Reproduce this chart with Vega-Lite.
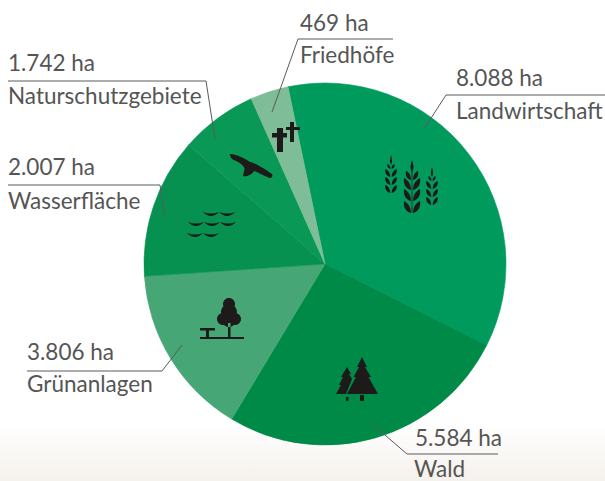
{
"$schema":"https://vega.github.io/schema/vega-lite/v6.json",
"width":605,"height":481,"padding":0,
"autosize":{"type":"none"},
"background":"#ffffff",
"config":{"view":{"stroke":null}},
"datasets":{
"areas":[
{"flaeche":"Landwirtschaft","ha":8088,"anteil":35.7,"rang":1},
{"flaeche":"Wald","ha":5584,"anteil":26.2,"rang":2},
{"flaeche":"Grünanlagen","ha":3806,"anteil":15.3,"rang":3},
{"flaeche":"Wasserfläche","ha":2007,"anteil":12.5,"rang":4},
{"flaeche":"Naturschutzgebiete","ha":1742,"anteil":6.9,"rang":5},
{"flaeche":"Friedhöfe","ha":469,"anteil":3.4,"rang":6}
],
"labels":[
{"t":"1.742 ha","x":8,"y":71},{"t":"Naturschutzgebiete","x":8,"y":104},
{"t":"2.007 ha","x":8,"y":175},{"t":"Wasserfläche","x":8,"y":209},
{"t":"469 ha","x":300,"y":31},{"t":"Friedhöfe","x":300,"y":63},
{"t":"8.088 ha","x":456,"y":86},{"t":"Landwirtschaft","x":456,"y":119},
{"t":"3.806 ha","x":27,"y":360},{"t":"Grünanlagen","x":27,"y":392},
{"t":"5.584 ha","x":415,"y":446},{"t":"Wald","x":414,"y":477}
],
"leaders":[
{"g":"n","o":1,"x":8,"y":81},{"g":"n","o":2,"x":206,"y":81},{"g":"n","o":3,"x":215,"y":139},
{"g":"w","o":1,"x":8,"y":185},{"g":"w","o":2,"x":160,"y":185},{"g":"w","o":3,"x":165,"y":217},
{"g":"f","o":1,"x":393,"y":39},{"g":"f","o":2,"x":298,"y":39},{"g":"f","o":3,"x":272,"y":112},
{"g":"l","o":1,"x":605,"y":95},{"g":"l","o":2,"x":446,"y":95},{"g":"l","o":3,"x":424,"y":129},
{"g":"g","o":1,"x":27,"y":371},{"g":"g","o":2,"x":162,"y":371},{"g":"g","o":3,"x":182,"y":345},
{"g":"d","o":1,"x":498,"y":454},{"g":"d","o":2,"x":407,"y":454},{"g":"d","o":3,"x":371,"y":423}
],
"icons":[
{"icon":"korn","x":412,"y":187},
{"icon":"kreuz","x":285,"y":137},
{"icon":"vogel","x":250,"y":166},
{"icon":"wellen","x":211,"y":223},
{"icon":"park","x":222,"y":318},
{"icon":"wald","x":357,"y":380}
]
},
"encoding":{},
"layer":[
{"data":{"values":[{"band":"unten"}]},
 "mark":{"type":"rect","color":{"gradient":"linear","x1":0,"y1":0,"x2":0,"y2":1,"stops":[{"offset":0,"color":"#ffffff"},{"offset":1,"color":"#f5f1ec"}]}},
 "encoding":{
  "x":{"datum":0,"type":"quantitative","scale":{"domain":[0,605],"range":[0,605],"nice":false},"axis":null},
  "x2":{"datum":605},
  "y":{"datum":425,"type":"quantitative","scale":{"domain":[0,481],"range":[0,481],"nice":false},"axis":null},
  "y2":{"datum":481}}},
{"data":{"name":"areas"},
 "mark":{"type":"arc","outerRadius":181,"innerRadius":0,"strokeWidth":0.6},
 "encoding":{
  "x":{"datum":325,"type":"quantitative"},
  "y":{"datum":264,"type":"quantitative"},
  "theta":{"field":"anteil","type":"quantitative","stack":true,"scale":{"domain":[0,100],"range":[-0.206,6.077]}},
  "order":{"field":"rang","type":"quantitative"},
  "stroke":{"field":"flaeche","type":"nominal","legend":null,"scale":{
   "domain":["Landwirtschaft","Wald","Grünanlagen","Wasserfläche","Naturschutzgebiete","Friedhöfe"],
   "range":["#009a5c","#008a47","#47a676","#079150","#0a9856","#7ebd98"]}},
  "fill":{"field":"flaeche","type":"nominal","legend":null,"scale":{
   "domain":["Landwirtschaft","Wald","Grünanlagen","Wasserfläche","Naturschutzgebiete","Friedhöfe"],
   "range":["#009a5c","#008a47","#47a676","#079150","#0a9856","#7ebd98"]}}}},
{"data":{"name":"leaders"},
 "mark":{"type":"line","stroke":"#5a5a5a","strokeWidth":1,"interpolate":"linear"},
 "encoding":{
  "x":{"field":"x","type":"quantitative"},
  "y":{"field":"y","type":"quantitative"},
  "detail":{"field":"g"},
  "order":{"field":"o","type":"quantitative"}}},
{"data":{"name":"icons"},
 "mark":{"type":"point","filled":true,"opacity":1,"strokeWidth":0,"size":4},
 "encoding":{
  "x":{"field":"x","type":"quantitative"},
  "y":{"field":"y","type":"quantitative"},
  "shape":{"field":"icon","type":"nominal","legend":null,"scale":{
   "domain":["korn","kreuz","vogel","wellen","park","wald"],
   "range":[
"M0,-27 q3,7 0,13 q-3,-6 0,-13z M-.4,-15 h.8 v41 h-.8z M1,26 c0,-6 3,-10 7,-12 c1,6 -2,11 -7,12z M-1,26 c0,-6 -3,-10 -7,-12 c-1,6 2,11 7,12z M1,14 c0,-6 3,-10 7,-12 c1,6 -2,11 -7,12z M-1,14 c0,-6 -3,-10 -7,-12 c-1,6 2,11 7,12z M1,3 c0,-6 3,-10 7,-12 c1,6 -2,11 -7,12z M-1,3 c0,-6 -3,-10 -7,-12 c-1,6 2,11 7,12z M1,-7 c0,-5 2,-8 5,-9 c1,5 -1,8 -5,9z M-1,-7 c0,-5 -2,-8 -5,-9 c-1,5 1,8 5,9z M-21,-32 q2,6 0,10 q-2,-4 0,-10z M-20.3,6 c0,-4 2,-7 5,-8 c.7,4 -1.5,7 -5,8z M-21.7,6 c0,-4 -2,-7 -5,-8 c-.7,4 1.5,7 5,8z M-20.3,-2 c0,-4 2,-7 5,-8 c.7,4 -1.5,7 -5,8z M-21.7,-2 c0,-4 -2,-7 -5,-8 c-.7,4 1.5,7 5,8z M-20.3,-10 c0,-4 2,-7 5,-8 c.7,4 -1.5,7 -5,8z M-21.7,-10 c0,-4 -2,-7 -5,-8 c-.7,4 1.5,7 5,8z M-20.5,-18 c0,-3 1,-4 3,-5 c.5,3 -.5,4 -3,5z M-21.5,-18 c0,-3 -1,-4 -3,-5 c-.5,3 .5,4 3,5z M20,-20 q2,6 0,10 q-2,-4 0,-10z M20.7,18 c0,-4 2,-7 5,-8 c.7,4 -1.5,7 -5,8z M19.3,18 c0,-4 -2,-7 -5,-8 c-.7,4 1.5,7 5,8z M20.7,10 c0,-4 2,-7 5,-8 c.7,4 -1.5,7 -5,8z M19.3,10 c0,-4 -2,-7 -5,-8 c-.7,4 1.5,7 5,8z M20.7,2 c0,-4 2,-7 5,-8 c.7,4 -1.5,7 -5,8z M19.3,2 c0,-4 -2,-7 -5,-8 c-.7,4 1.5,7 5,8z M20.5,-6 c0,-3 1,-4 3,-5 c.5,3 -.5,4 -3,5z M19.5,-6 c0,-3 -1,-4 -3,-5 c-.5,3 .5,4 3,5z",
"M-8,-9 h6 v24 h-6z M-13,-4 h15 v4.5 h-15z M5,-15 h4 v20 h-4z M1,-10 h14 v3 h-14z",
"M-20,-12 C-14,-12 -6,-8 0,-4 C6,-3 16,4 22,8 C23,10 22,12 20,12 C14,10 8,6 4,5 C2,9 -4,11 -7,10 L-6,5 C-4,2 -8,-2 -12,-4 C-16,-6 -20,-7 -20,-12Z",
"M-8,-11 q8,8 16,0 q-8,3 -16,0z M8,-11 q8,8 16,0 q-8,3 -16,0z M-23,-1 q8,8 16,0 q-8,3 -16,0z M-7,-1 q8,8 16,0 q-8,3 -16,0z M9,-1 q8,8 16,0 q-8,3 -16,0z M-24,10 q8,8 16,0 q-8,3 -16,0z M-8,10 q8,8 16,0 q-8,3 -16,0z",
"M-22,19 h44 v2 h-44z M-22,10 h15 v2.5 h-15z M-16,12 h3 v7 h-3z M6,5 h2.5 v14 h-2.5z M1,-14 a6,6 0 1,0 12,0 a6,6 0 1,0 -12,0z M-1,-6 a8,8 0 1,0 16,0 a8,8 0 1,0 -16,0z M-5,1 a6,6 0 1,0 12,0 a6,6 0 1,0 -12,0z M7,1 a6,6 0 1,0 12,0 a6,6 0 1,0 -12,0z M0,2 a7,7 0 1,0 14,0 a7,7 0 1,0 -14,0z",
"M5,-23 L10,-13 L8,-13 L14,-3 L11.5,-3 L21,14 L-10,14 L-1,-3 L-3.5,-3 L2,-13 L0,-13 Z M3,15 h4 v6 h-4z M-10,-13 L-6,-6 L-8,-6 L-5,-1 L-11,14 L-21,14 L-16,5 L-18,5 L-14,-3 L-16,-3 Z M-11,17 h2.5 v4 h-2.5z"
]}},
  "color":{"value":"#1d1a1a"}}},
{"data":{"name":"labels"},
 "mark":{"type":"text","align":"left","baseline":"alphabetic","font":"Lato","fontSize":22.5,"fontWeight":400,"color":"#555555"},
 "encoding":{
  "x":{"field":"x","type":"quantitative"},
  "y":{"field":"y","type":"quantitative"},
  "text":{"field":"t"}}}
]
}
